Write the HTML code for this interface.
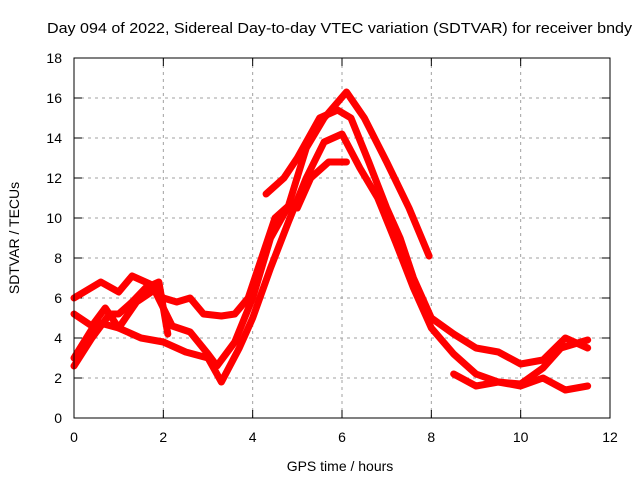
<!DOCTYPE html>
<html><head><meta charset="utf-8"><style>
body{margin:0;background:#fff}
svg{display:block;font-family:"Liberation Sans",sans-serif}
</style></head><body>
<svg id="c" width="640" height="480">
<rect width="640" height="480" fill="#fff"/>
<text x="47" y="33" font-size="15" textLength="585" lengthAdjust="spacingAndGlyphs">Day 094 of 2022, Sidereal Day-to-day VTEC variation (SDTVAR) for receiver bndy</text>
<text x="340" y="471" text-anchor="middle" font-size="14">GPS time / hours</text>
<text transform="translate(19,238) rotate(-90)" text-anchor="middle" font-size="14">SDTVAR / TECUs</text>
<g id="grid"></g><g id="series"></g>
<rect x="74" y="58" width="536" height="360" fill="none" stroke="#000"/>
</svg>
<script>
const xTicks=[0,2,4,6,8,10,12];
const yTicks=[0,2,4,6,8,10,12,14,16,18];
const t1x=[0,0.3,0.6,1.0,1.3,1.7,2.0,2.3,2.6,2.9,3.3,3.6,3.9,4.2,4.5,4.8,5.0,5.3,5.7,6.1];
const t1y=[6.0,6.4,6.8,6.3,7.1,6.7,6.0,5.8,6.0,5.2,5.1,5.2,6.0,8.0,10.0,10.6,10.5,12.0,12.8,12.8];
const t2x=[4.3,4.7,5.0,5.5,5.9,6.2,6.6,7.0,7.3,7.6,8.0,8.5,9.0,9.5,10.0,10.5,11.0,11.5];
const t2y=[11.2,12.0,13.0,15.0,15.4,15.0,12.8,10.5,9.0,7.0,5.0,4.2,3.5,3.3,2.7,2.9,4.0,3.5];
const t3x=[0,0.4,0.7,1.0,1.4,1.8,2.2,2.6,3.0,3.2,3.6,4.0,4.4,4.8,5.2,5.6,6.1,6.5,7.0,7.5,7.95];
const t3y=[5.2,4.6,5.5,4.5,5.8,6.4,4.6,4.3,3.2,2.6,3.8,6.0,9.0,10.6,13.5,15.0,16.3,15.0,12.8,10.5,8.1];
const t4x=[0,0.4,0.8,1.0,1.3,1.6,1.9,2.1];
const t4y=[2.6,4.0,5.2,5.2,5.8,6.5,6.8,4.2];
const t5x=[0,0.5,1.0,1.5,2.0,2.5,3.0,3.3,3.7,4.0,4.4,4.8,5.2,5.6,6.0,6.4,6.8,7.2,7.6,8.0,8.5,9.0,9.5,10.0,10.5,11.0,11.5];
const t5y=[3.0,4.8,4.5,4.0,3.8,3.3,3.0,1.8,3.5,5.0,7.5,9.8,12.0,13.8,14.2,12.5,11.0,8.8,6.5,4.5,3.2,2.2,1.8,1.6,2.0,1.4,1.6];
const t6x=[8.5,9.0,9.5,10.0,10.5,10.9,11.5];
const t6y=[2.2,1.6,1.8,1.7,2.5,3.5,3.9];
const X=h=>74+h*536/12, Y=v=>418-v*20;
const NS="http://www.w3.org/2000/svg";
const g=document.getElementById('grid');
function mk(t,a,p){const e=document.createElementNS(NS,t);for(const k in a)e.setAttribute(k,a[k]);p.appendChild(e);return e;}
xTicks.forEach(t=>{
 if(t>0&&t<12){const l=mk('line',{x1:X(t),x2:X(t),y1:58,y2:418,stroke:'#a0a0a0','stroke-dasharray':'3,4'},g);
 
 }
 mk('line',{x1:X(t),x2:X(t),y1:418,y2:410,stroke:'#000'},g);
 mk('line',{x1:X(t),x2:X(t),y1:58,y2:66,stroke:'#000'},g);
 const tx=mk('text',{x:X(t),y:442,'text-anchor':'middle','font-size':14},g);tx.textContent=t;
 
 
});
yTicks.forEach(t=>{
 if(t>0&&t<18){const l=mk('line',{x1:74,x2:610,y1:Y(t),y2:Y(t),stroke:'#a0a0a0','stroke-dasharray':'3,4'},g);
 
 }
 mk('line',{x1:74,x2:82,y1:Y(t),y2:Y(t),stroke:'#000'},g);
 mk('line',{x1:602,x2:610,y1:Y(t),y2:Y(t),stroke:'#000'},g);
 const tx=mk('text',{x:62,y:Y(t)+5,'text-anchor':'end','font-size':14},g);tx.textContent=t;
 
 
});
const s=document.getElementById('series');
[[t1x,t1y],[t2x,t2y],[t3x,t3y],[t4x,t4y],[t5x,t5y],[t6x,t6y]].forEach((d,i)=>{
 const pts=d[0].map((h,j)=>X(h)+','+Y(d[1][j])).join(' ');
 const p=mk('polyline',{points:pts,fill:'none',stroke:'#ff0000','stroke-width':7,'stroke-linejoin':'round','stroke-linecap':'round'},s);
 
 
});
</script>
</body></html>
